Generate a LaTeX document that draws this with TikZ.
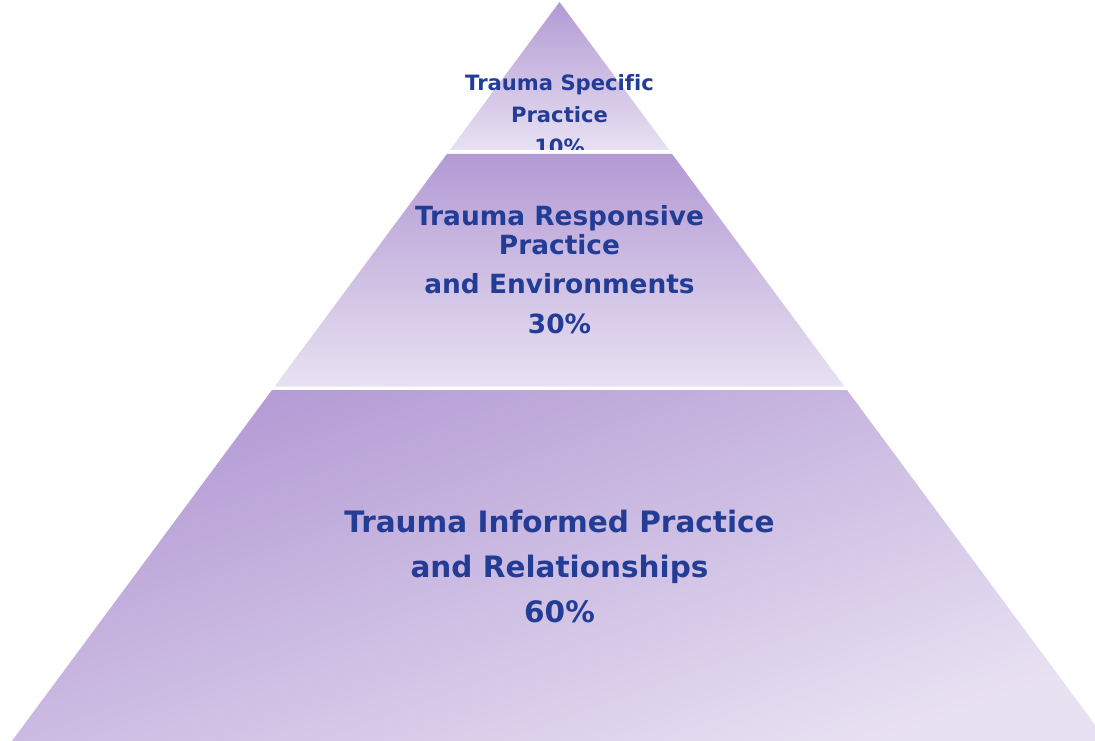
\documentclass[tikz,border=0pt]{standalone}
\usepackage{fontspec}
\setmainfont{DejaVu Sans}[Ligatures=NoCommon]
\definecolor{txtblue}{RGB}{35,60,150}
\definecolor{bandtop}{RGB}{179,154,212}
\definecolor{bandlow}{RGB}{232,225,242}
\begin{document}
\begin{tikzpicture}[x=1pt,y=-1pt,
  lbl/.style={text=txtblue, anchor=base, inner sep=0pt},
  lblS/.style={lbl, font=\fontsize{21.1}{32}\selectfont\bfseries},
  lblM/.style={lbl, font=\fontsize{26.4}{40}\selectfont\bfseries},
  lblL/.style={lbl, font=\fontsize{29.5}{45}\selectfont\bfseries}]
\useasboundingbox (0,0) rectangle (1095,741);
\clip (0,0) rectangle (1095,741);

% three bands of the pyramid, each with its own gradient
\shade[top color=bandtop, bottom color=bandlow]
  (559.5,2) -- (669.2,150) -- (449.8,150) -- cycle;
\shade[top color=bandtop, bottom color=bandlow]
  (446.9,154) -- (672.1,154) -- (844.4,386.5) -- (274.6,386.5) -- cycle;
\shade[top color=bandtop, bottom color=bandlow, shading angle=20]
  (272,390) -- (847,390) -- (1107.1,741) -- (11.9,741) -- cycle;

% top label, cut off at the base of the apex band
\begin{scope}
  \clip (0,0) rectangle (1095,150);
  \node[lblS] (s1) at (559.5,91)  {Trauma Specific};
  \node[lblS] (s2) at (559.5,123) {Practice};
  \node[lblS] (s3) at (559.5,155) {10\%};
\end{scope}

% middle label
\node[lblM] (m1) at (559.5,225) {Trauma Responsive};
\node[lblM] (m2) at (559.5,254) {Practice};
\node[lblM] (m3) at (559.5,293) {and Environments};
\node[lblM] (m4) at (559.5,333) {30\%};

% bottom label
\node[lblL] (b1) at (559.5,532) {Trauma Informed Practice};
\node[lblL] (b2) at (559.5,577) {and Relationships};
\node[lblL] (b3) at (559.5,622) {60\%};
\end{tikzpicture}
\end{document}
